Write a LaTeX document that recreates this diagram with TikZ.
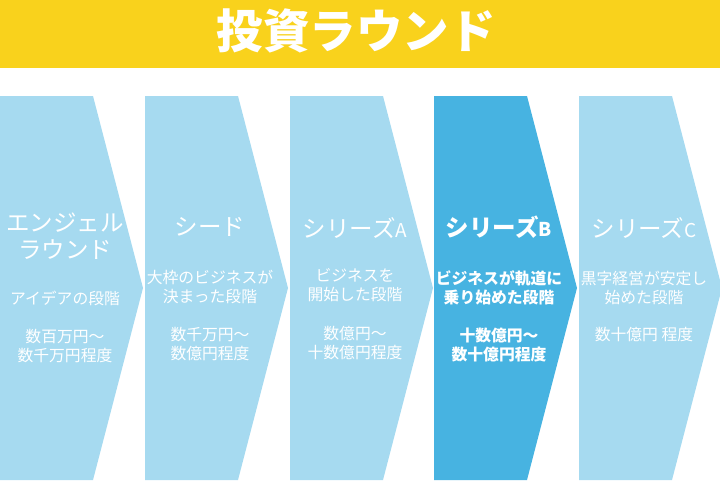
\documentclass[tikz,border=0pt]{standalone}
\usepackage{fontspec}
\newfontfamily\jp{Noto Sans CJK JP}
\definecolor{banner}{RGB}{249,210,28}
\definecolor{stagelight}{RGB}{166,218,240}
\definecolor{stagedark}{RGB}{71,179,225}
\tikzset{
  stagetitle/.style={text=white, inner sep=0pt, align=center, font=\jp\fontsize{23.5}{27}\selectfont},
  stagetext/.style={text=white, inner sep=0pt, align=center, font=\jp\fontsize{15.8}{19}\selectfont},
}
\newcommand{\lat}[1]{{\fontsize{19}{20}\selectfont #1}}
\begin{document}
\begin{tikzpicture}[x=1pt,y=-1pt]
\useasboundingbox (0,0) rectangle (720,480);
\fill[banner] (0,0) rectangle (720,68);
\node[text=white, font=\jp\bfseries\fontsize{46.5}{46.5}\selectfont] (roundtitle) at (356,31) {投資ラウンド};

\foreach \x/\c in {0/stagelight, 145/stagelight, 290/stagelight, 434/stagedark, 579/stagelight}
\fill[\c] (\x,96) --++(93,0) --++(50,192) --++(-50,192) --++(-93,0) -- cycle;

% エンジェル
\node[stagetitle] (angel) at (65,236) {エンジェル\\ラウンド};
\node[stagetext] (angeltext) at (65,298) {アイデアの段階};
\node[stagetext] (angelmoney) at (65,346) {数百万円～\\数千万円程度};

% シード
\node[stagetitle] (seed) at (210,227) {シード};
\node[stagetext] (seedtext) at (210,287) {大枠のビジネスが\\決まった段階};
\node[stagetext] (seedmoney) at (210,344) {数千万円～\\数億円程度};

% シリーズA
\node[stagetitle] (seriesA) at (355,228) {シリーズ\lat{A}};
\node[stagetext] (seriesAtext) at (355,285) {ビジネスを\\開始した段階};
\node[stagetext] (seriesAmoney) at (355,343) {数億円～\\十数億円程度};

% シリーズB
\node[stagetitle, font=\jp\bfseries\fontsize{23.5}{27}\selectfont] (seriesB) at (499,227) {シリーズ\lat{B}};
\node[stagetext, font=\jp\bfseries\fontsize{15.8}{19}\selectfont] (seriesBtext) at (499,288) {ビジネスが軌道に\\乗り始めた段階};
\node[stagetext, font=\jp\bfseries\fontsize{15.8}{19}\selectfont] (seriesBmoney) at (499,345) {十数億円～\\数十億円程度};

% シリーズC
\node[stagetitle] (seriesC) at (644,228) {シリーズ\lat{C}};
\node[stagetext] (seriesCtext) at (644,288) {黒字経営が安定し\\始めた段階};
\node[stagetext] (seriesCmoney) at (644,335) {数十億円 程度};
\end{tikzpicture}
\end{document}
